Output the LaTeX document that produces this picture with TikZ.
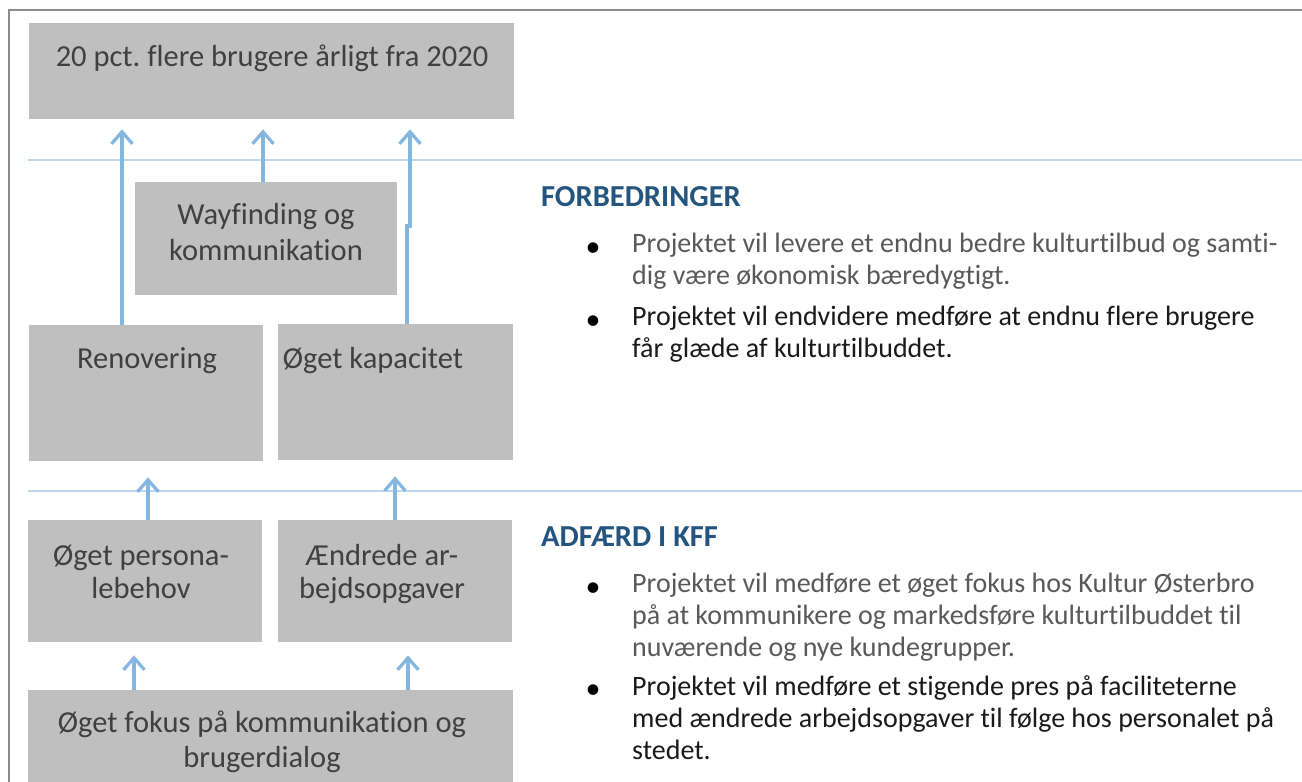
\documentclass[tikz,border=0pt]{standalone}
\usepackage{fontspec}
\setmainfont{Carlito}[Ligatures=NoCommon]
\usetikzlibrary{arrows.meta,calc}
\frenchspacing
\definecolor{boxgray}{HTML}{BFBFBF}
\definecolor{boxtext}{HTML}{404040}
\definecolor{arrblue}{HTML}{84B6E0}
\definecolor{seplblue}{HTML}{BDD7EE}
\definecolor{headblue}{HTML}{24557F}
\definecolor{framegray}{HTML}{8C8C8C}
\definecolor{graytext}{HTML}{595959}
\definecolor{darktext}{HTML}{1A1A1A}
\tikzset{
  box/.style={fill=boxgray, draw=none, inner sep=0pt, anchor=north west},
  btext/.style={text=boxtext, align=center, inner sep=0pt, font=\fontsize{30.5}{35}\selectfont},
  arr/.style={draw=arrblue, line width=3.2pt, -{Straight Barb[length=12pt,width=21pt]}},
  sep/.style={draw=seplblue, line width=1.5pt},
  head/.style={text=headblue, font=\fontsize{30.5}{32}\selectfont\bfseries, inner sep=0pt, anchor=west},
  bul/.style={inner sep=0pt, anchor=center, font=\fontsize{30}{32}\selectfont},
  para/.style={align=left, inner sep=0pt, anchor=north west, font=\fontsize{28}{32}\selectfont},
}
\begin{document}
\begin{tikzpicture}[x=1pt,y=-1pt]
\useasboundingbox (0,0) rectangle (1302,782);
\fill[white] (0,0) rectangle (1302,782);
% frame
\draw[framegray, line width=1.5pt] (9,783) -- (9,10) -- (1303,10);
% separators
\draw[sep] (28,160) -- (1303,160);
\draw[sep] (28,491) -- (1303,491);
% boxes
\node[box, minimum width=485pt, minimum height=96pt] (goal) at (29,23) {};
\node[box, minimum width=262pt, minimum height=113pt] (way) at (135,182) {};
\node[box, minimum width=234pt, minimum height=136pt] (ren) at (29,325) {};
\node[box, minimum width=235pt, minimum height=136pt] (kap) at (278,324) {};
\node[box, minimum width=234pt, minimum height=122pt] (pers) at (28,520) {};
\node[box, minimum width=234pt, minimum height=122pt] (aend) at (278,520) {};
\node[box, minimum width=485pt, minimum height=95pt] (fokus) at (28,690) {};
% box texts
\node[btext, anchor=base] (goalt) at (272,66) {20 pct. flere brugere årligt fra 2020};
\node[btext, anchor=base] (wayt1) at (266,224) {Wayfinding og};
\node[btext, anchor=base] (wayt2) at (266,260) {kommunikation};
\node[btext, anchor=base] (rent) at (147,368) {Renovering};
\node[btext, anchor=base] (kapt) at (373,368) {Øget kapacitet};
\node[btext, anchor=base] (perst1) at (141,565) {Øget persona-};
\node[btext, anchor=base] (perst2) at (141,598) {lebehov};
\node[btext, anchor=base] (aendt1) at (382,565) {Ændrede ar-};
\node[btext, anchor=base] (aendt2) at (382,598) {bejdsopgaver};
\node[btext, anchor=base] (fokust1) at (262,732) {Øget fokus på kommunikation og};
\node[btext, anchor=base] (fokust2) at (262,767) {brugerdialog};
% arrows
\draw[arr, shorten >=10pt] ($(ren.north west)+(93,0)$) -- ($(goal.south west)+(93,0)$);
\draw[arr, shorten >=10pt] ($(way.north west)+(128,0)$) -- ($(goal.south west)+(234,0)$);
\coordinate (jog) at ($(kap.north west)+(129,-98)$);
\draw[arr, shorten >=10pt] ($(kap.north west)+(129,0)$) -- (jog) -- ++(3,0) -- ($(goal.south west)+(381,0)$);
\draw[arr, shorten >=16pt] ($(pers.north west)+(120,0)$) -- ($(ren.south west)+(119,0)$);
\draw[arr, shorten >=16pt] ($(aend.north west)+(117,0)$) -- ($(kap.south west)+(117,0)$);
\draw[arr, shorten >=13pt] ($(fokus.north west)+(106,0)$) -- ($(pers.south west)+(106,0)$);
\draw[arr, shorten >=13pt] ($(fokus.north west)+(380,0)$) -- ($(aend.south west)+(130,0)$);
% right side
\node[head] (h1) at (541,197) {FORBEDRINGER};
\node[bul] (b1) at (593,250) {•};
\node[para, text=graytext] (p1) at (632,233) {Projektet vil levere et endnu bedre kulturtilbud og samti-\\dig være økonomisk bæredygtigt.};
\node[bul] (b2) at (593,323) {•};
\node[para, text=darktext] (p2) at (632,306) {Projektet vil endvidere medføre at endnu flere brugere\\får glæde af kulturtilbuddet.};
\node[head] (h2) at (541,537) {ADFÆRD I KFF};
\node[bul] (b3) at (593,590) {•};
\node[para, text=graytext] (p3) at (632,573) {Projektet vil medføre et øget fokus hos Kultur Østerbro\\på at kommunikere og markedsføre kulturtilbuddet til\\nuværende og nye kundegrupper.};
\node[bul] (b4) at (593,692) {•};
\node[para, text=darktext] (p4) at (632,675) {Projektet vil medføre et stigende pres på faciliteterne\\med ændrede arbejdsopgaver til følge hos personalet på\\stedet.};
\end{tikzpicture}
\end{document}
